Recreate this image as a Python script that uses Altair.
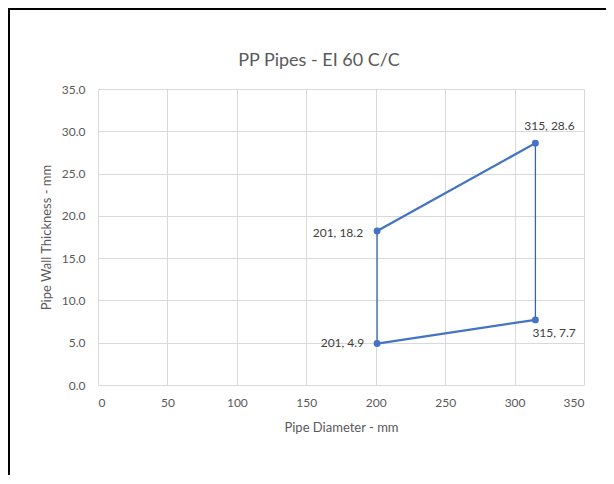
import altair as alt
import pandas as pd

# Data
diameters = [201, 315, 201, 315]
thicknesses = [18.2, 28.6, 4.9, 7.7]
point_labels = ["201, 18.2", "315, 28.6", "201, 4.9", "315, 7.7"]
chart_title = ["PP Pipes - EI 60 C/C"]

# sloped segments (thick) and vertical segments (thin), as index pairs
sloped_segments = [(0, 1), (2, 3)]
vertical_segments = [(2, 0), (3, 1)]

W, H = 486, 296
PAD = {"left": 90, "top": 81, "right": 22, "bottom": 90}

pts = pd.DataFrame({"d": diameters, "t": thicknesses, "lab": point_labels})

sl_rows = []
for k, (a, b) in enumerate(sloped_segments):
    for i in (a, b):
        sl_rows.append({"seg": k, "d": diameters[i], "t": thicknesses[i]})
sl = pd.DataFrame(sl_rows)

vt = pd.DataFrame({
    "d": [diameters[a] for a, b in vertical_segments],
    "t1": [thicknesses[a] for a, b in vertical_segments],
    "t2": [thicknesses[b] for a, b in vertical_segments],
})

BLUE = "#4472C4"
FONT = "Lato"
GREY = "#595959"

xs = alt.Scale(domain=[0, 350], nice=False)
ys = alt.Scale(domain=[0, 35], nice=False)

xax = alt.Axis(values=list(range(0, 351, 50)), title="Pipe Diameter - mm",
               grid=True, gridColor="#D9D9D9", domain=False, ticks=False,
               labelPadding=12, labelFontSize=12, labelColor=GREY, labelFont=FONT,
               titleFont=FONT, titleFontSize=13, titleFontWeight="normal",
               titleColor=GREY, titlePadding=13)
yax = alt.Axis(values=list(range(0, 36, 5)), format=".1f", title="Pipe Wall Thickness - mm",
               grid=True, gridColor="#D9D9D9", domain=False, ticks=False,
               labelPadding=13, labelFontSize=12, labelColor=GREY, labelFont=FONT,
               titleFont=FONT, titleFontSize=13, titleFontWeight="normal",
               titleColor=GREY, titlePadding=8)

lines = alt.Chart(sl).mark_line(color=BLUE, strokeWidth=2.25).encode(
    x=alt.X("d:Q", scale=xs, axis=xax),
    y=alt.Y("t:Q", scale=ys, axis=yax),
    detail="seg:N",
)

verts = alt.Chart(vt).mark_rule(color="#3A64B0", strokeWidth=1.3).encode(
    x=alt.X("d:Q", scale=xs),
    y=alt.Y("t1:Q", scale=ys),
    y2="t2:Q",
)

dots = alt.Chart(pts).mark_circle(color=BLUE, size=48, opacity=1).encode(
    x=alt.X("d:Q", scale=xs),
    y=alt.Y("t:Q", scale=ys),
)

def lab(idx, align, dx, dy):
    return alt.Chart(pts.iloc[[idx]]).mark_text(
        align=align, baseline="middle", dx=dx, dy=dy,
        font=FONT, fontSize=12, color="#404040",
    ).encode(x=alt.X("d:Q", scale=xs), y=alt.Y("t:Q", scale=ys), text="lab:N")

labels = [
    lab(0, "right", -14, 2),
    lab(1, "center", 14, -17),
    lab(2, "right", -13, -1),
    lab(3, "left", -3, 13),
]

title_mark = alt.Chart(pd.DataFrame({"title": chart_title})).mark_text(
    align="center", baseline="alphabetic", font=FONT, fontSize=18, color=GREY,
).encode(x=alt.value(221), y=alt.value(-23), text="title:N")

frame_left = alt.Chart(pts).mark_rule(color="black", strokeWidth=2).encode(
    x=alt.value(-89), y=alt.value(-81), y2=alt.value(H + PAD["bottom"]))
frame_top = alt.Chart(pts).mark_rule(color="black", strokeWidth=2).encode(
    x=alt.value(-90), x2=alt.value(W + PAD["right"]), y=alt.value(-80))

chart = alt.layer(lines, verts, dots, *labels, title_mark, frame_left, frame_top).properties(
    width=W, height=H,
    autosize=alt.AutoSizeParams(type="none"),
    padding=PAD,
    background="white",
).configure_view(stroke=None)

chart.save("out.html", embed_options={"renderer": "svg", "actions": False})
